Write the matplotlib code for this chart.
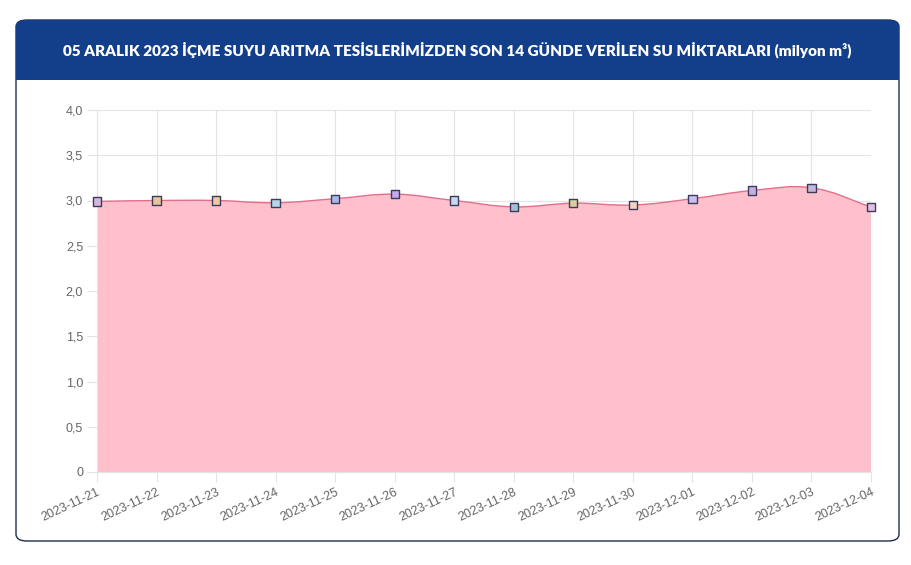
import matplotlib
matplotlib.use("Agg")
import matplotlib.pyplot as plt
import numpy as np
from matplotlib.patches import FancyBboxPatch, Rectangle, PathPatch
from matplotlib.path import Path

title = "05 ARALIK 2023 İÇME SUYU ARITMA TESİSLERİMİZDEN SON 14 GÜNDE VERİLEN SU MİKTARLARI (milyon m³)"

dates = ["2023-11-21", "2023-11-22", "2023-11-23", "2023-11-24", "2023-11-25",
         "2023-11-26", "2023-11-27", "2023-11-28", "2023-11-29", "2023-11-30",
         "2023-12-01", "2023-12-02", "2023-12-03", "2023-12-04"]
values = [2.99, 3.00, 3.00, 2.975, 3.02, 3.07, 3.00, 2.93, 2.97, 2.95, 3.02, 3.11, 3.14, 2.93]
marker_colors = ["#d9b6e0", "#e6c49c", "#f2c8a0", "#b4d6e6", "#a9b9ee", "#c2a9f0",
                 "#c9d8ee", "#a4c0cf", "#d8cf9e", "#f2d6be", "#c8c0ef", "#c2b0e0",
                 "#c3b8d8", "#e2c0e6"]
yticks = [0, 0.5, 1.0, 1.5, 2.0, 2.5, 3.0, 3.5, 4.0]
ytick_labels = ["0", "0,5", "1,0", "1,5", "2,0", "2,5", "3,0", "3,5", "4,0"]

W, H = 912, 565
fig = plt.figure(figsize=(W / 100, H / 100), dpi=100)
fig.patch.set_facecolor("white")

# card + header (drawn behind the axes)
card = FancyBboxPatch((16 / W, 24 / H), 883 / W, 521 / H,
                      boxstyle="round,pad=0,rounding_size=0.012",
                      transform=fig.transFigure, facecolor="white",
                      edgecolor="#1f2c4c", linewidth=1.0, zorder=-3)
fig.patches.append(card)
head_top = FancyBboxPatch((16 / W, 500 / H), 883 / W, 45 / H,
                          boxstyle="round,pad=0,rounding_size=0.012",
                          transform=fig.transFigure, facecolor="#133e89",
                          edgecolor="none", zorder=-2)
fig.patches.append(head_top)
fig.patches.append(Rectangle((16 / W, 485 / H), 883 / W, 30 / H,
                             transform=fig.transFigure, facecolor="#133e89",
                             edgecolor="none", zorder=-2))
fig.text(457 / W, 515 / H, title, color="white", fontsize=11,
         fontweight="heavy", family="Lato", ha="center", va="center")

ax = fig.add_axes([97 / W, 93 / H, 774 / W, 362 / H])
ax.patch.set_alpha(0)
x = np.arange(len(dates))
y = np.array(values)

# Chart.js-like spline (tension 0.4), computed in pixel space
sx, sy = 774 / (len(dates) - 1), 362 / 4.0
px, py = x * sx, y * sy
t = 0.4
cps = []
for i in range(len(x)):
    p0 = (px[max(i - 1, 0)], py[max(i - 1, 0)])
    p1 = (px[i], py[i])
    p2 = (px[min(i + 1, len(x) - 1)], py[min(i + 1, len(x) - 1)])
    d01 = np.hypot(p1[0] - p0[0], p1[1] - p0[1])
    d12 = np.hypot(p2[0] - p1[0], p2[1] - p1[1])
    s01 = d01 / (d01 + d12) if d01 + d12 else 0
    s12 = d12 / (d01 + d12) if d01 + d12 else 0
    fa, fb = t * s01, t * s12
    prev_cp = (p1[0] - fa * (p2[0] - p0[0]), p1[1] - fa * (p2[1] - p0[1]))
    next_cp = (p1[0] + fb * (p2[0] - p0[0]), p1[1] + fb * (p2[1] - p0[1]))
    cps.append((prev_cp, next_cp))

verts = [(x[0], y[0])]
codes = [Path.MOVETO]
for i in range(len(x) - 1):
    c1 = cps[i][1]
    c2 = cps[i + 1][0]
    verts += [(c1[0] / sx, c1[1] / sy), (c2[0] / sx, c2[1] / sy), (x[i + 1], y[i + 1])]
    codes += [Path.CURVE4] * 3

fill_verts = verts + [(x[-1], 0), (x[0], 0), (x[0], y[0])]
fill_codes = codes + [Path.LINETO, Path.LINETO, Path.CLOSEPOLY]
ax.add_patch(PathPatch(Path(fill_verts, fill_codes), facecolor="#ffc0cb",
                       edgecolor="none", zorder=2))
ax.add_patch(PathPatch(Path(verts, codes), facecolor="none",
                       edgecolor="#e0708c", linewidth=1.0, zorder=3))
ax.scatter(x, y, s=36, marker="s", c=marker_colors, edgecolors="#3b3b5e",
           linewidths=1.0, zorder=4, clip_on=False)

ax.set_xlim(0, len(dates) - 1)
ax.set_ylim(0, 4.0)
ax.set_yticks(yticks)
ax.set_yticklabels(ytick_labels)
ax.set_xticks(x)
ax.set_xticklabels(dates, rotation=25, ha="right", rotation_mode="anchor")
ax.grid(True, color="#e4e4e4", linewidth=0.8, zorder=1)
ax.set_axisbelow(True)
for s in ax.spines.values():
    s.set_visible(False)
ax.spines["left"].set_visible(True)
ax.spines["left"].set_color("#e4e4e4")
ax.spines["bottom"].set_visible(True)
ax.spines["bottom"].set_color("#e4e4e4")
ax.tick_params(colors="#e4e4e4", length=7, width=0.8, labelcolor="#666666",
               labelsize=9, pad=3)
for lab in ax.get_xticklabels() + ax.get_yticklabels():
    lab.set_family("Liberation Sans")

fig.savefig("out.png", dpi=100, facecolor="white")
